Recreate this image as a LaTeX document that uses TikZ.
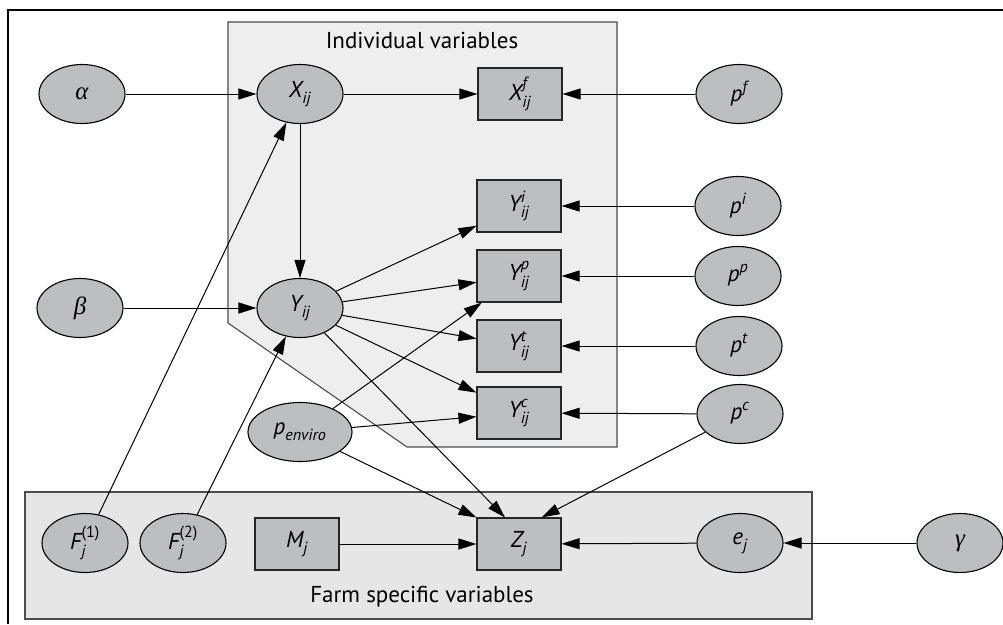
\documentclass[tikz,border=0pt]{standalone}
\usepackage{amsmath}
\usepackage{fontspec}
\setmainfont{PT Sans}
\newfontfamily\greekfont{Liberation Serif}
\usetikzlibrary{shapes.geometric,arrows.meta}
\definecolor{nodegray}{HTML}{BDBEC0}
\definecolor{indgray}{HTML}{EEEEEE}
\definecolor{farmgray}{HTML}{E6E6E6}
\newcommand{\sv}[3]{$\textit{#1}^{\textit{#3}}_{\textit{#2}}$}
\newcommand{\gk}[1]{{\greekfont\itshape\fontsize{25}{27}\selectfont #1}}
\tikzset{
    latent/.style={ellipse, draw=black, line width=1.1pt, fill=nodegray, minimum width=86pt, minimum height=59pt, inner sep=0pt},
    observed/.style={rectangle, draw=black!85, line width=1.1pt, fill=nodegray, minimum width=84pt, minimum height=52pt, inner sep=0pt},
    link/.style={-{Triangle[length=18pt,width=11pt]}, line width=1pt},
    plate/.style={draw=black!70, line width=1.1pt}
}
\begin{document}
\begin{tikzpicture}[x=1pt, y=-1pt, font=\fontsize{23}{27}\selectfont]
            %\draw[lightgray] (0, 0) grid[step=50] (1003, 624);
            \useasboundingbox (0, 0) rectangle (1003, 624);
            \draw[line width=1.1pt] (8, 624) -- (8, 10) -- (1003, 10);
            \draw[plate, fill=indgray] (228, 22) -- (617, 22) -- (617, 447) -- (407, 447) -- (228, 323) -- cycle;
            \draw[plate, fill=farmgray] (25, 492) rectangle (812, 619);
            \node (ind title) at (422, 40) {Individual variables};
            \node (farm title) at (422, 597) {Farm specific variables};
            % individual level
            \node[latent] (alpha) at (82, 94) {\gk{α}};
            \node[latent] (X) at (300, 94) {\sv{X}{ij}{}};
            \node[observed] (Xf) at (520, 94) {\sv{X}{ij}{f}};
            \node[latent] (pf) at (739, 94) {\sv{p}{}{f}};
            \node[observed] (Yi) at (519, 206) {\sv{Y}{ij}{i}};
            \node[latent] (pi) at (738, 206) {\sv{p}{}{i}};
            \node[observed] (Yp) at (519, 276) {\sv{Y}{ij}{p}};
            \node[latent] (pp) at (738, 276) {\sv{p}{}{p}};
            \node[latent] (beta) at (80, 308) {\gk{β}};
            \node[latent] (Y) at (300, 308) {\sv{Y}{ij}{}};
            \node[observed] (Yt) at (519, 346) {\sv{Y}{ij}{t}};
            \node[latent] (pt) at (739, 346) {\sv{p}{}{t}};
            \node[observed] (Yc) at (519, 413) {\sv{Y}{ij}{c}};
            \node[latent] (pc) at (740, 414) {\sv{p}{}{c}};
            \node[latent, minimum width=104pt] (penv) at (300, 432) {\sv{p}{enviro}{}};
            % farm level
            \node[latent] (F1) at (85, 543) {$\textit{F}^{\text{(1)}}_{\textit{j}}$};
            \node[latent] (F2) at (183, 543) {$\textit{F}^{\text{(2)}}_{\textit{j}}$};
            \node[observed] (M) at (297, 544) {\sv{M}{j}{}};
            \node[observed] (Z) at (519, 544) {\sv{Z}{j}{}};
            \node[latent] (e) at (740, 543) {\sv{e}{j}{}};
            \node[latent] (gamma) at (960, 543) {\gk{γ}};
            % links
            \draw[link] (alpha) -- (X);
            \draw[link] (X) -- (Xf);
            \draw[link] (pf) -- (Xf);
            \draw[link] (X) -- (Y);
            \draw[link] (beta) -- (Y);
            \draw[link] (F1) -- (X);
            \draw[link] (F2) -- (Y);
            \foreach \target in {Yi, Yp, Yt, Yc}
                \draw[link] (Y) -- (\target);
            \draw[link] (pi) -- (Yi);
            \draw[link] (pp) -- (Yp);
            \draw[link] (pt) -- (Yt);
            \draw[link] (pc) -- (Yc);
            \draw[link] (penv) -- (Yp);
            \draw[link] (penv) -- (Yc);
            \draw[link] (penv) -- (Z.north west);
            \draw[link] (Y) -- ([xshift=-14pt]Z.north);
            \draw[link] (pc) -- ([xshift=-20pt]Z.north east);
            \draw[link] (M) -- (Z);
            \draw[link] (e) -- (Z);
            \draw[link] (gamma) -- (e);
        \end{tikzpicture}
\end{document}
